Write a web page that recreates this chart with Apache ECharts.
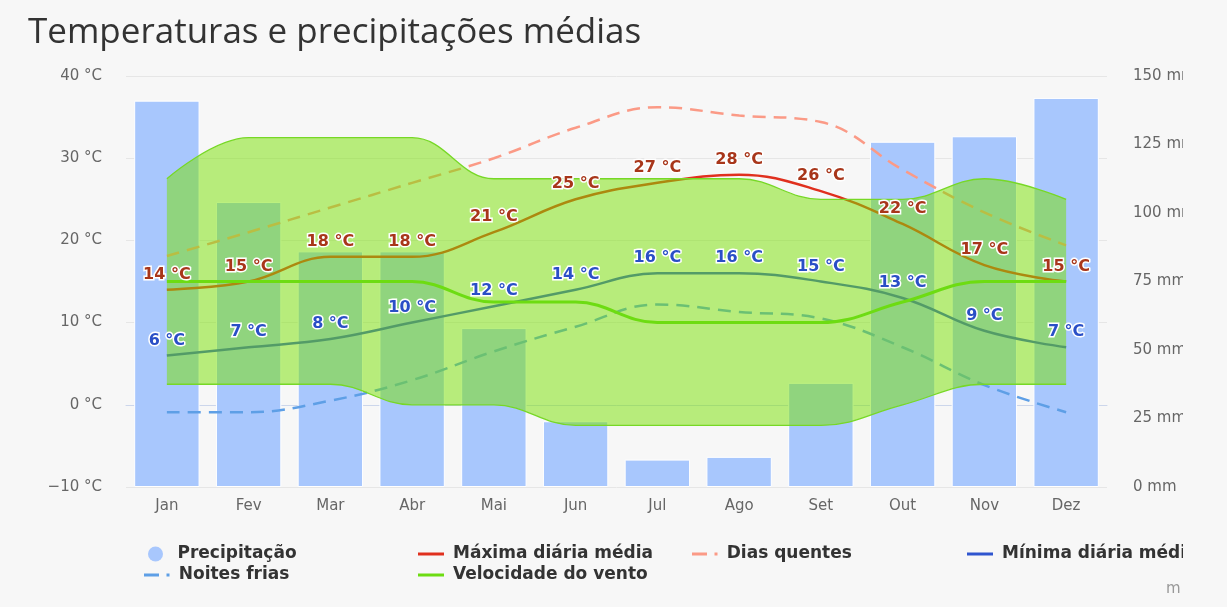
<!DOCTYPE html>
<html>
<head>
<meta charset="utf-8">
<title>Temperaturas e precipitações médias</title>
<script src="https://cdn.jsdelivr.net/npm/echarts@6/dist/echarts.min.js"></script>
<style>
  html, body { margin: 0; padding: 0; background: #fff; }
  #wrap { width: 1227px; height: 607px; background: #f7f7f7; }
  #main { width: 1183px; height: 607px; }
</style>
</head>
<body>
<div id="wrap"><div id="main"></div></div>
<script>
// dados
var meses = ['Jan', 'Fev', 'Mar', 'Abr', 'Mai', 'Jun', 'Jul', 'Ago', 'Set', 'Out', 'Nov', 'Dez'];
var precipitacao = [141, 104, 86, 86, 58, 24, 10, 11, 38, 126, 128, 142];          // mm
var maxima = [14, 15, 18, 18, 21, 25, 27, 28, 26, 22, 17, 15];                    // °C
var minima = [6, 7, 8, 10, 12, 14, 16, 16, 15, 13, 9, 7];                         // °C
var diasQuentes = [18.1, 21, 24, 27, 30, 33.7, 36.2, 35.2, 34.4, 28.6, 23.4, 19.4];
var noitesFrias = [-0.9, -0.9, 0.5, 3, 6.5, 9.5, 12.2, 11.3, 10.5, 7, 2.4, -0.9];
var vento = [15, 15, 15, 15, 12.5, 12.5, 10, 10, 10, 12.5, 15, 15];
var ventoMin = [2.5, 2.5, 2.5, 0, 0, -2.5, -2.5, -2.5, -2.5, 0, 2.5, 2.5];
var ventoMax = [27.5, 32.5, 32.5, 32.5, 27.5, 27.5, 27.5, 27.5, 25, 25, 27.5, 25];
var ticksTemp = [-10, 40, 10];   // min, max, intervalo
var ticksChuva = [0, 150, 25];

var FONT = 'DejaVu Sans';

// faixa do vento = diferença entre max e min (empilhada sobre a min)
var ventoFaixa = ventoMax.map(function(v, i){ return v - ventoMin[i]; });

var chart = echarts.init(document.getElementById('main'), null, {renderer: 'canvas'});

var dashIcon = 'path://M0,0H10V2H0Z M15,0H17V2H15Z';

function mkLegend(nome, left, top, icon, h){
  return {
    data: [{name: nome, icon: icon}],
    left: left,
    top: top,
    padding: 0,
    itemWidth: 26,
    itemHeight: h || 3,
    itemStyle: {borderWidth: 0},
    textStyle: {
      fontFamily: FONT, fontSize: 17, fontWeight: 'bold', color: '#333',
      lineHeight: 18, padding: [0, 0, 0, 4]
    }
  };
}

function rotulo(cor){
  return {
    show: true,
    position: 'top',
    distance: 7,
    formatter: '{c} °C',
    fontFamily: FONT,
    fontSize: 16,
    fontWeight: 'bold',
    color: cor,
    opacity: 1,
    textBorderColor: '#fff',
    textBorderWidth: 3
  };
}

var option = {
  animation: false,
  backgroundColor: '#f7f7f7',
  title: {
    text: 'Temperaturas e precipitações médias',
    left: 28,
    top: 16,
    padding: 0,
    textStyle: {fontFamily: 'Open Sans', fontSize: 35, fontWeight: 'normal', color: '#333'}
  },
  legend: [
    mkLegend('Precipitação', 148, 545, 'circle', 15),
    mkLegend('Noites frias', 144, 566, dashIcon),
    mkLegend('Máxima diária média', 418, 545, 'rect'),
    mkLegend('Velocidade do vento', 418, 566, 'rect'),
    mkLegend('Dias quentes', 692, 545, dashIcon),
    mkLegend('Mínima diária média', 967, 545, 'rect')
  ],
  graphic: [{
    type: 'text', left: 1166, top: 582,
    style: {text: 'm', fontFamily: FONT, fontSize: 15, fill: '#999'}
  }],
  grid: {left: 126, right: 76, top: 76, bottom: 120, containLabel: false, outerBoundsMode: 'none'},
  xAxis: {
    type: 'category',
    data: meses,
    boundaryGap: true,
    axisTick: {show: false},
    axisLine: {lineStyle: {color: '#ccd6eb'}},
    axisLabel: {color: '#666', fontFamily: FONT, fontSize: 15, margin: 12}
  },
  yAxis: [{
    type: 'value',
    min: ticksTemp[0], max: ticksTemp[1], interval: ticksTemp[2],
    axisLine: {show: false},
    axisTick: {show: false},
    splitLine: {lineStyle: {color: '#e6e6e6'}},
    axisLabel: {
      color: '#666', fontFamily: FONT, fontSize: 15, margin: 24,
      formatter: function(v){ return (v < 0 ? '\u2212' + Math.abs(v) : v) + ' °C'; }
    }
  }, {
    type: 'value',
    position: 'right',
    min: ticksChuva[0], max: ticksChuva[1], interval: ticksChuva[2],
    axisLine: {show: false},
    axisTick: {show: false},
    splitLine: {show: false},
    axisLabel: {color: '#666', fontFamily: FONT, fontSize: 15, margin: 26, align: 'left', formatter: '{value} mm'}
  }],
  series: [
    {
      name: 'Precipitação', type: 'bar', yAxisIndex: 1, data: precipitacao,
      barCategoryGap: '20%', z: 1,
      itemStyle: {color: '#a8c7fd', borderColor: '#fff', borderWidth: 1}
    },
    {
      name: 'Dias quentes', type: 'line', data: diasQuentes, smooth: 0.4, symbol: 'none', z: 2,
      itemStyle: {color: '#fb9a86'},
      lineStyle: {color: '#fb9a86', width: 2.5, type: [13, 8]}
    },
    {
      name: 'Noites frias', type: 'line', data: noitesFrias, smooth: 0.4, symbol: 'none', z: 2,
      itemStyle: {color: '#5e9fe6'},
      lineStyle: {color: '#5e9fe6', width: 2.5, type: [13, 8]}
    },
    {
      name: 'Máxima diária média', type: 'line', data: maxima, smooth: 0.4, symbol: 'none', z: 3,
      itemStyle: {color: '#e0301e'},
      lineStyle: {color: '#e0301e', width: 2.5}
    },
    {
      name: 'Mínima diária média', type: 'line', data: minima, smooth: 0.4, symbol: 'none', z: 3,
      itemStyle: {color: '#2f55cf'},
      lineStyle: {color: '#2f55cf', width: 2.5}
    },
    // faixa do vento (área translúcida por cima das linhas)
    {
      name: 'ventoMin', type: 'line', data: ventoMin, stack: 'vento', stackStrategy: 'all',
      smooth: 0.4, symbol: 'none', z: 4, silent: true,
      lineStyle: {color: '#77d826', width: 1.3}
    },
    {
      name: 'ventoFaixa', type: 'line', data: ventoFaixa, stack: 'vento', stackStrategy: 'all',
      smooth: 0.4, symbol: 'none', z: 4, silent: true,
      lineStyle: {color: '#77d826', width: 1.3},
      areaStyle: {color: 'rgb(120,225,0)', opacity: 0.5}
    },
    {
      name: 'Velocidade do vento', type: 'line', data: vento, smooth: 0.4, symbol: 'none', z: 5,
      itemStyle: {color: '#6ddc12'},
      lineStyle: {color: '#6ddc12', width: 3}
    },
    // rótulos por cima de tudo
    {
      name: 'rotMax', type: 'scatter', data: maxima, symbolSize: 0, z: 6, silent: true,
      itemStyle: {color: 'rgba(0,0,0,0)', opacity: 1},
      label: rotulo('#a8361a')
    },
    {
      name: 'rotMin', type: 'scatter', data: minima, symbolSize: 0, z: 6, silent: true,
      itemStyle: {color: 'rgba(0,0,0,0)', opacity: 1},
      label: rotulo('#2a4fc6')
    }
  ]
};

chart.setOption(option);
</script>
</body>
</html>
